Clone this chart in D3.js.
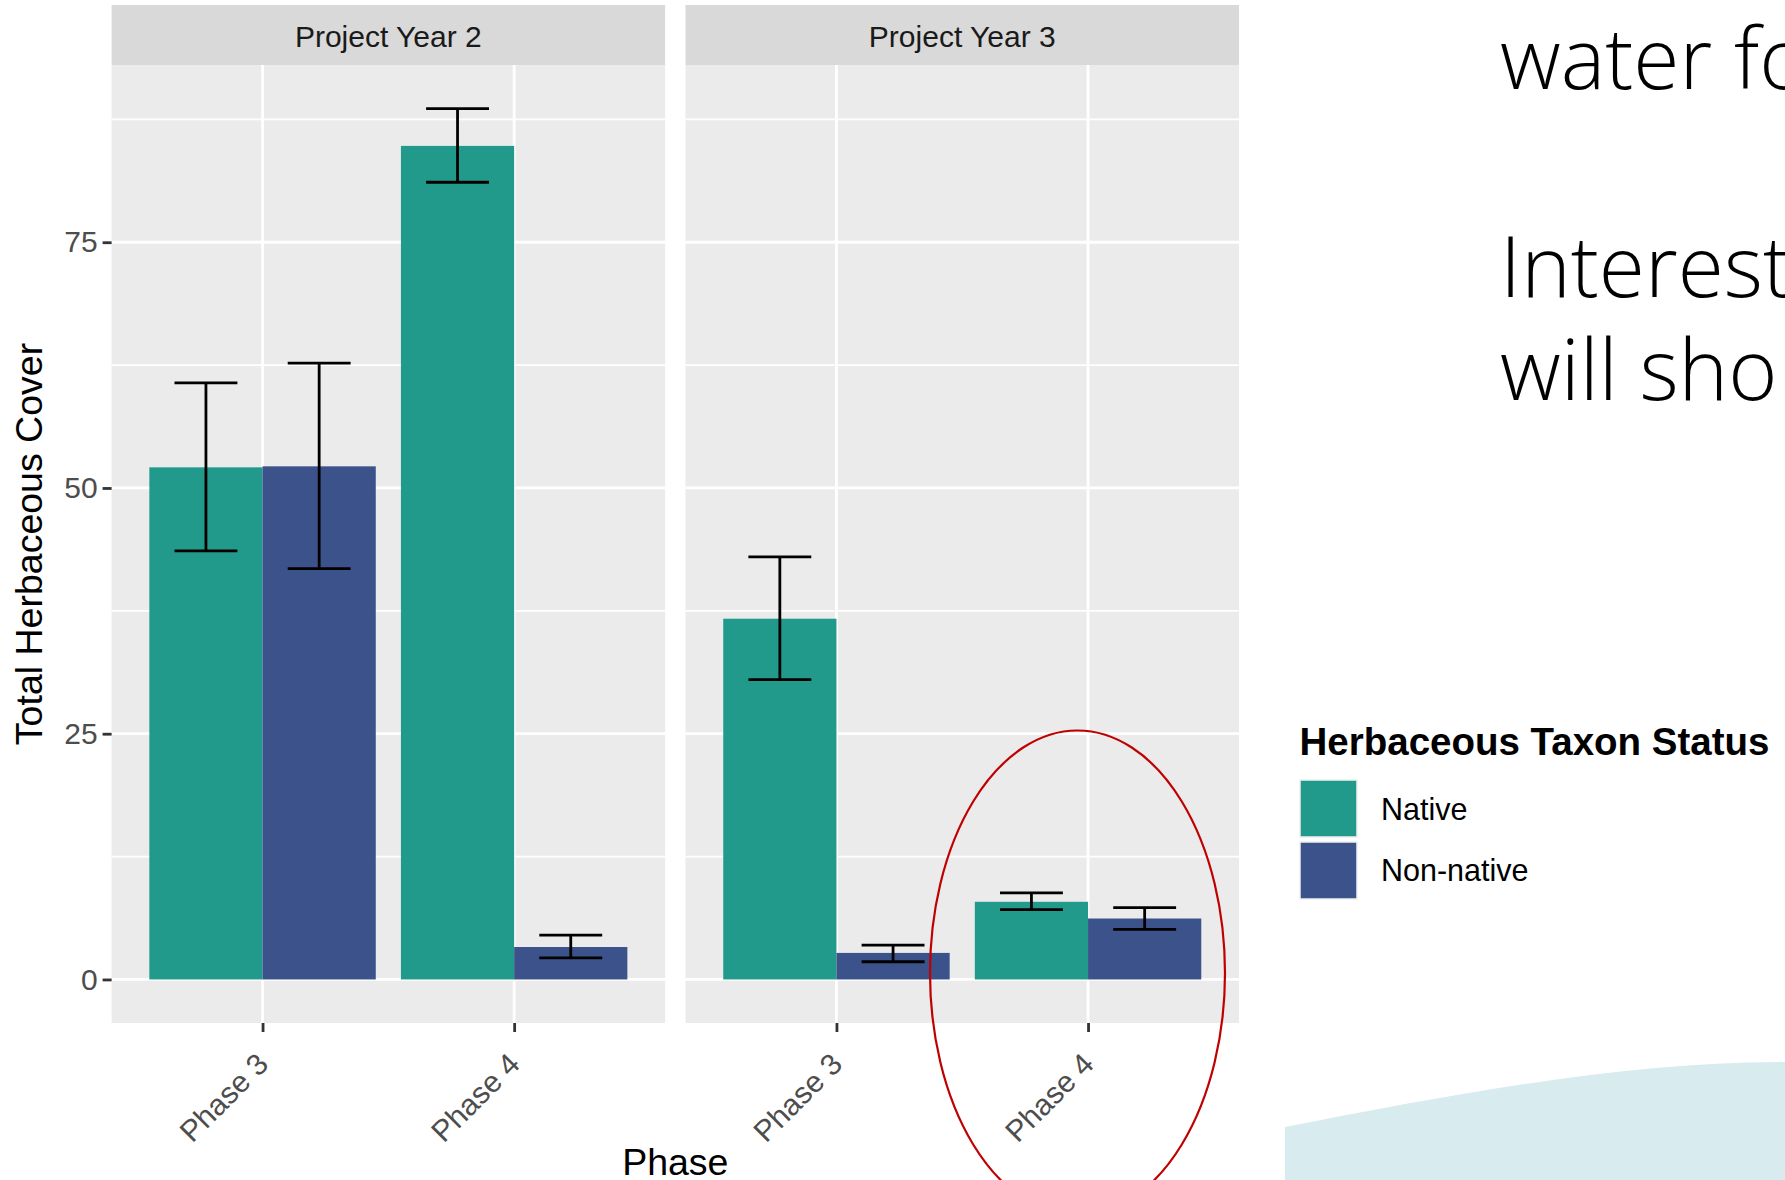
<!DOCTYPE html>
<html><head><meta charset="utf-8">
<script src="https://cdn.jsdelivr.net/npm/d3@7"></script>
<style>html,body{margin:0;padding:0;background:#fff;} svg{display:block;}</style>
</head><body>
<svg id="chart" width="1785" height="1180"></svg>
<script>
// ---- data ----
const years = ["Project Year 2", "Project Year 3"];
const phases = ["Phase 3", "Phase 4"];
const statuses = ["Native", "Non-native"];
const statusColors = ["#229a8b", "#3b528b"];

const y2Native      = [52.1, 84.8];
const y2NativeLo    = [43.6, 81.1];
const y2NativeHi    = [60.7, 88.6];
const y2NonNative   = [52.2, 3.3];
const y2NonNativeLo = [41.8, 2.2];
const y2NonNativeHi = [62.7, 4.5];

const y3Native      = [36.7, 7.9];
const y3NativeLo    = [30.5, 7.1];
const y3NativeHi    = [43.0, 8.8];
const y3NonNative   = [2.7, 6.2];
const y3NonNativeLo = [1.8, 5.1];
const y3NonNativeHi = [3.5, 7.3];

const yTicks = [0, 25, 50, 75];
const yMinor = [12.5, 37.5, 62.5, 87.5];
const yTitle = "Total Herbaceous Cover";
const xTitle = "Phase";
const legendTitle = "Herbaceous Taxon Status";
const slideLines = [["water fo", 89], ["Interest", 297], ["will sho", 400]];

const series = [
  {year: 0, status: 0, mean: y2Native,    lo: y2NativeLo,    hi: y2NativeHi},
  {year: 0, status: 1, mean: y2NonNative, lo: y2NonNativeLo, hi: y2NonNativeHi},
  {year: 1, status: 0, mean: y3Native,    lo: y3NativeLo,    hi: y3NativeHi},
  {year: 1, status: 1, mean: y3NonNative, lo: y3NonNativeLo, hi: y3NonNativeHi}
];
const rows = series.flatMap(s => phases.map((p, i) => ({
  year: s.year, status: s.status, phase: p, mean: s.mean[i], lo: s.lo[i], hi: s.hi[i]
})));

// ---- layout ----
const svg = d3.select("#chart");
const FONT = "'Liberation Sans', Arial, sans-serif";
const panelX0 = [111.6, 685.5], panelW = 553.5;
const stripTop = 5, pTop = 65, pBottom = 1023;

const yMax = d3.max(rows, d => d.hi);
const ext = yMax * 0.05;
const y = d3.scaleLinear().domain([-ext, yMax + ext]).range([pBottom, pTop]);

// background slide decoration
svg.append("path")
  .attr("d", "M1285,1180 L1285,1127 C1450,1095 1620,1062 1785,1062 L1785,1180 Z")
  .attr("fill", "#d8ebee");

years.forEach((yr, yi) => {
  const px = panelX0[yi];
  const x = d3.scalePoint().domain(phases).range([px, px + panelW]).padding(0.6);
  const step = x.step();
  const bw = step * 0.45;
  const g = svg.append("g");

  g.append("rect").attr("x", px).attr("y", pTop).attr("width", panelW).attr("height", pBottom - pTop).attr("fill", "#ebebeb");
  g.selectAll(".minor").data(yMinor).join("line")
    .attr("x1", px).attr("x2", px + panelW).attr("y1", d => y(d)).attr("y2", d => y(d))
    .attr("stroke", "#fff").attr("stroke-width", 1.6);
  g.selectAll(".major").data(yTicks).join("line")
    .attr("x1", px).attr("x2", px + panelW).attr("y1", d => y(d)).attr("y2", d => y(d))
    .attr("stroke", "#fff").attr("stroke-width", 2.8);
  g.selectAll(".vmajor").data(phases).join("line")
    .attr("x1", d => x(d)).attr("x2", d => x(d)).attr("y1", pTop).attr("y2", pBottom)
    .attr("stroke", "#fff").attr("stroke-width", 2.8);

  // strip
  g.append("rect").attr("x", px).attr("y", stripTop).attr("width", panelW).attr("height", pTop - stripTop).attr("fill", "#d9d9d9");
  g.append("text").attr("x", px + panelW / 2).attr("y", 46.5).attr("text-anchor", "middle")
    .attr("font-family", FONT).attr("font-size", 30).attr("fill", "#1a1a1a").text(yr);

  const data = rows.filter(d => d.year === yi);
  const bx = d => x(d.phase) - bw + d.status * bw;
  g.selectAll(".bar").data(data).join("rect")
    .attr("x", bx).attr("width", bw)
    .attr("y", d => y(d.mean)).attr("height", d => y(0) - y(d.mean))
    .attr("fill", d => statusColors[d.status]);

  const ew = step * 0.25;
  const eb = g.selectAll(".err").data(data).join("g").attr("stroke", "#000").attr("stroke-width", 2.8);
  eb.append("line").attr("x1", d => bx(d) + bw / 2).attr("x2", d => bx(d) + bw / 2)
    .attr("y1", d => y(d.lo)).attr("y2", d => y(d.hi));
  eb.append("line").attr("x1", d => bx(d) + bw / 2 - ew / 2).attr("x2", d => bx(d) + bw / 2 + ew / 2)
    .attr("y1", d => y(d.hi)).attr("y2", d => y(d.hi));
  eb.append("line").attr("x1", d => bx(d) + bw / 2 - ew / 2).attr("x2", d => bx(d) + bw / 2 + ew / 2)
    .attr("y1", d => y(d.lo)).attr("y2", d => y(d.lo));

  // x axis
  const xa = g.append("g").attr("transform", `translate(0,${pBottom})`)
    .call(d3.axisBottom(x).tickSize(9).tickFormat(""));
  xa.select(".domain").remove();
  xa.selectAll("line").attr("stroke", "#333").attr("stroke-width", 2.8);
  g.selectAll(".xlab").data(phases).join("text")
    .attr("transform", d => `translate(${x(d) + 7.5},1066) rotate(-45)`)
    .attr("text-anchor", "end").attr("font-family", FONT).attr("font-size", 30).attr("fill", "#4d4d4d")
    .text(d => d);
});

// y axis
const ya = svg.append("g").attr("transform", `translate(${panelX0[0]},0)`)
  .call(d3.axisLeft(y).tickValues(yTicks).tickSize(9).tickPadding(5));
ya.select(".domain").remove();
ya.selectAll("line").attr("stroke", "#333").attr("stroke-width", 2.8);
ya.selectAll("text").attr("font-family", FONT).attr("font-size", 30).attr("fill", "#4d4d4d");

svg.append("text").attr("transform", `translate(42.4,${(pTop + pBottom) / 2}) rotate(-90)`)
  .attr("text-anchor", "middle").attr("font-family", FONT).attr("font-size", 37.5).attr("fill", "#000").text(yTitle);
svg.append("text").attr("x", (panelX0[0] + panelX0[1] + panelW) / 2).attr("y", 1175)
  .attr("text-anchor", "middle").attr("font-family", FONT).attr("font-size", 37.5).attr("fill", "#000").text(xTitle);

// legend
const lg = svg.append("g");
lg.append("text").attr("x", 1299.5).attr("y", 754.5).attr("font-family", FONT).attr("font-weight", "bold")
  .attr("font-size", 38.5).attr("fill", "#000").text(legendTitle);
const keyY = [780, 842];
const labY = [820, 881];
lg.selectAll(".key").data(statuses).join("rect")
  .attr("x", 1300).attr("y", (d, i) => keyY[i]).attr("width", 57).attr("height", 57)
  .attr("fill", (d, i) => statusColors[i]).attr("stroke", "#f0f0f0").attr("stroke-width", 1.5);
lg.selectAll(".lab").data(statuses).join("text")
  .attr("x", 1381).attr("y", (d, i) => labY[i]).attr("font-family", FONT).attr("font-size", 30.5)
  .attr("fill", "#000").text(d => d);

// slide text
svg.selectAll(".slide").data(slideLines).join("text")
  .attr("x", 1500).attr("y", d => d[1]).attr("font-family", "'Open Sans', 'Noto Sans', sans-serif")
  .attr("font-weight", 300).attr("font-size", 84).attr("fill", "#000").text(d => d[0]);

// red ellipse annotation
svg.append("ellipse").attr("cx", 1077.5).attr("cy", 973).attr("rx", 147.5).attr("ry", 242.5)
  .attr("fill", "none").attr("stroke", "#c00000").attr("stroke-width", 2.2);
</script>
</body></html>
